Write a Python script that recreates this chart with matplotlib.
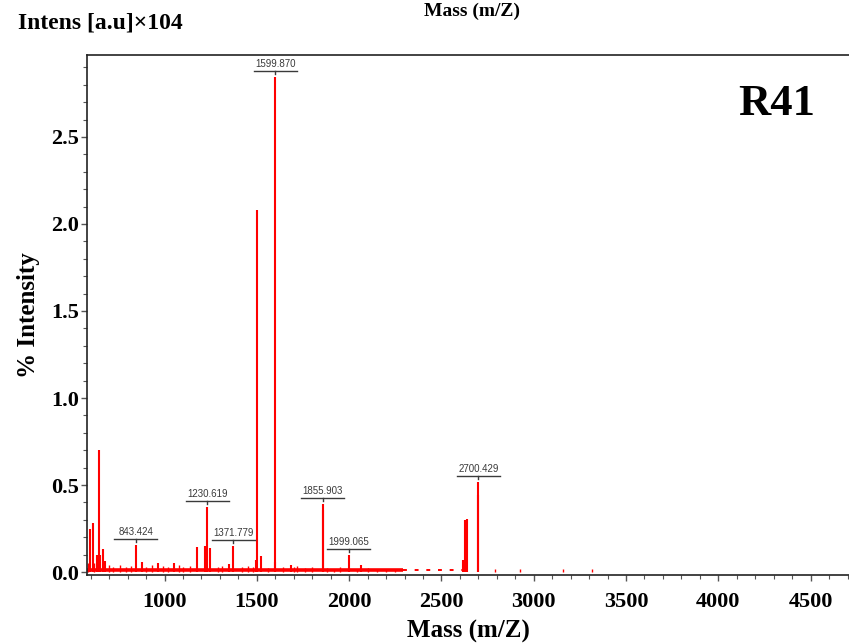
import matplotlib
matplotlib.use("Agg")
import matplotlib.pyplot as plt
import matplotlib.transforms as mtransforms
from matplotlib.lines import Line2D
from matplotlib.ticker import MultipleLocator

# Peak list: m/z and intensity (x10^4 a.u.)
peak_mz = [598, 611, 636, 645, 651, 668, 676, 843.424, 880, 963, 1051,
           1174, 1219, 1230.619, 1245, 1349, 1371.779, 1497, 1503, 1521,
           1597, 1599.870, 1684, 1855.903, 1860, 1999.065, 2063,
           2617, 2629, 2639, 2697, 2700.429]
peak_int = [0.25, 0.28, 0.10, 0.70, 0.10, 0.13, 0.065, 0.153, 0.06, 0.05, 0.05,
            0.145, 0.15, 0.375, 0.14, 0.045, 0.15, 0.07, 2.08, 0.09,
            0.06, 2.845, 0.04, 0.39, 0.356, 0.10, 0.04,
            0.07, 0.30, 0.305, 0.44, 0.52]

# Annotated peaks
label_mz = [843.424, 1230.619, 1371.779, 1599.870, 1855.903, 1999.065, 2700.429]
label_int = [0.153, 0.375, 0.15, 2.845, 0.39, 0.10, 0.52]

# Small noise spikes along the baseline
noise_mz = [585, 620, 700, 720, 760, 790, 820, 900, 930, 990, 1020, 1080, 1100,
            1140, 1290, 1310, 1420, 1450, 1480, 1560, 1640, 1700, 1720, 1760,
            1800, 1880, 1920, 1950, 2040, 2100, 2150, 2200, 2250,
            2790, 2925, 3158, 3316]
noise_int = [0.05, 0.05, 0.04, 0.03, 0.04, 0.03, 0.035, 0.03, 0.04, 0.035, 0.03,
             0.04, 0.03, 0.035, 0.03, 0.035, 0.03, 0.035, 0.03, 0.025, 0.03,
             0.03, 0.035, 0.025, 0.03, 0.025, 0.02, 0.03, 0.02, 0.025, 0.02,
             0.02, 0.02, 0.02, 0.02, 0.02, 0.02]

RED = "#ff0000"
LABEL_GREY = "#3a3a3a"

fig = plt.figure(figsize=(8.49, 6.43), dpi=100)
ax = fig.add_axes([87 / 849, 1 - 575 / 643, 1 - 87 / 849, (575 - 55) / 643])

ax.set_xlim(580, 4708)
ax.set_ylim(-0.017, 2.971)

# Baseline band and sparse tail
ax.plot([580, 2290], [0.012, 0.012], color=RED, lw=2.6, solid_capstyle="butt")
ax.plot([2290, 2620], [0.010, 0.010], color=RED, lw=1.4, ls=(0, (2, 4)))

ax.vlines(noise_mz, 0.0, noise_int, color=RED, lw=1.0)
ax.vlines(peak_mz, 0.0, peak_int, color=RED, lw=1.5)

# Peak labels with an underline and a short marker tick (offsets in pixels)
for mz, h in zip(label_mz, label_int):
    anchor = mtransforms.Affine2D().translate(*ax.transData.transform((mz, h)))
    ax.text(0, 8, f"{mz:.3f}", transform=anchor, ha="center", va="bottom",
            fontsize=7, family="Liberation Sans", color=LABEL_GREY)
    for (x0, y0, x1, y1) in [(-21.5, 6, 21.5, 6), (0, 6, 0, 3)]:
        ax.add_line(Line2D([x0, x1], [y0, y1], color=LABEL_GREY, lw=1.0,
                           transform=anchor))

# Axes styling
ax.spines["right"].set_visible(False)
for side in ["left", "bottom", "top"]:
    ax.spines[side].set_linewidth(1.2)
    ax.spines[side].set_color("#222222")

ax.xaxis.set_major_locator(MultipleLocator(500))
ax.xaxis.set_minor_locator(MultipleLocator(100))
ax.yaxis.set_major_locator(MultipleLocator(0.5))
ax.yaxis.set_minor_locator(MultipleLocator(0.1))
ax.tick_params(axis="both", which="major", direction="out", length=4, width=1, color="#555555")
ax.tick_params(axis="both", which="minor", direction="out", length=3, width=0.8, color="#555555")
ax.tick_params(axis="x", which="major", pad=8)
ax.tick_params(axis="y", which="major", pad=2)

serif = {"family": "Liberation Serif", "weight": "bold"}
ax.set_xticks([1000, 1500, 2000, 2500, 3000, 3500, 4000, 4500])
ax.set_xticklabels(["1000", "1500", "2000", "2500", "3000", "3500", "4000", "4500"],
                   fontdict=dict(serif, size=16))
ax.set_yticks([0.0, 0.5, 1.0, 1.5, 2.0, 2.5])
ax.set_yticklabels(["0.0", "0.5", "1.0", "1.5", "2.0", "2.5"], fontdict=dict(serif, size=16))

ax.set_xlabel("Mass (m/Z)", fontdict=dict(serif, size=18), labelpad=6)
ax.set_ylabel("% Intensity", fontdict=dict(serif, size=18), labelpad=8)

fig.text(18 / 849, 1 - 23 / 643, "Intens [a.u]\u00d7104", ha="left", va="center",
         fontdict=dict(serif, size=17))
fig.text(472 / 849, 1 - 11 / 643, "Mass (m/Z)", ha="center", va="center",
         fontdict=dict(serif, size=14))
ax.text(0.955, 0.905, "R41", transform=ax.transAxes, ha="right", va="center",
        fontdict=dict(serif, size=32))

fig.savefig("out.png", dpi=100)
